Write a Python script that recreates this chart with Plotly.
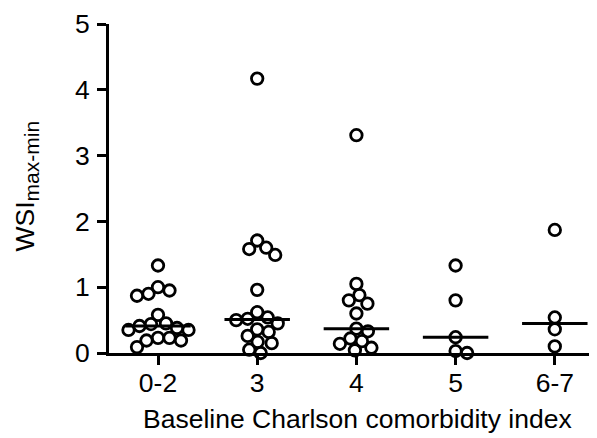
import plotly.graph_objects as go
import numpy as np

# ---- data ----
categories = ["0-2", "3", "4", "5", "6-7"]
values_0_2 = [1.33, 1.00, 0.95, 0.90, 0.87, 0.58, 0.45, 0.44, 0.41, 0.38, 0.35, 0.35, 0.23, 0.23, 0.19, 0.19, 0.09]
values_3 = [4.17, 1.71, 1.60, 1.58, 1.49, 0.96, 0.62, 0.54, 0.52, 0.50, 0.45, 0.36, 0.32, 0.26, 0.17, 0.15, 0.05, 0.00]
values_4 = [3.31, 1.05, 0.88, 0.80, 0.75, 0.60, 0.37, 0.33, 0.22, 0.18, 0.14, 0.08, 0.04]
values_5 = [1.33, 0.80, 0.24, 0.03, 0.00]
values_6_7 = [1.87, 0.54, 0.36, 0.10]
groups = [values_0_2, values_3, values_4, values_5, values_6_7]
y_ticks = [0, 1, 2, 3, 4, 5]
x_title = "Baseline Charlson comorbidity index"
y_title = "WSI<sub><span style='font-size:21px'>max-min</span></sub>"

# ---- layout geometry (page body has an 8px default margin) ----
OFF = 8
W, H = 597 - OFF, 438 - OFF
ML, MR, MT, MB = 109 - OFF, 0, 24 - OFF, 85
plot_w = W - ML - MR
plot_h = H - MT - MB
y_range = [0, 5]
x_lo = -0.494
px_per_x = 99.2
x_range = [x_lo, x_lo + plot_w / px_per_x]
px_per_y = plot_h / (y_range[1] - y_range[0])

MARKER = 11.5
MIN_D = 11.5  # allowed centre distance in px (Prism-style slight overlap)


def swarm(vals):
    """Deterministic beeswarm offsets (in x-axis units) computed from values."""
    order = sorted(range(len(vals)), key=lambda i: -vals[i])
    placed = []
    offs = [0.0] * len(vals)
    for i in order:
        ypx = vals[i] * px_per_y
        k = 0
        while True:
            cand = 0.0 if k == 0 else (k + 1) // 2 * (1 if k % 2 else -1) * 0.5
            ok = all((cand - px) ** 2 + (ypx - py) ** 2 >= MIN_D ** 2 for px, py in placed)
            if ok:
                break
            k += 1
        placed.append((cand, ypx))
        offs[i] = cand / px_per_x
    return offs


fig = go.Figure()
for gi, vals in enumerate(groups):
    offs = swarm(vals)
    fig.add_trace(go.Scatter(
        x=[gi + o for o in offs], y=vals, mode="markers",
        marker=dict(symbol="circle-open", size=MARKER, color="black",
                    line=dict(width=2.8, color="black")),
        showlegend=False, hoverinfo="y", cliponaxis=False,
    ))
    med = float(np.median(vals))
    fig.add_trace(go.Scatter(
        x=[gi - 0.33, gi + 0.33], y=[med, med], mode="lines",
        line=dict(color="black", width=3), showlegend=False,
        hoverinfo="skip", cliponaxis=False,
    ))

FONT = "Arial, Liberation Sans, sans-serif"
FS = 26.5
fig.update_layout(
    width=W, height=H,
    margin=dict(l=ML, r=MR, t=MT, b=MB, pad=0, autoexpand=False),
    paper_bgcolor="white", plot_bgcolor="white",
    font=dict(family=FONT, color="black", size=FS),
    xaxis=dict(
        range=x_range, tickmode="array", tickvals=list(range(len(categories))),
        ticktext=categories, showgrid=False, zeroline=False, automargin=False,
        showline=True, linecolor="black", linewidth=2.7,
        ticks="outside", ticklen=9, tickwidth=2.7, tickcolor="black",
        tickfont=dict(size=FS, family=FONT), ticklabelstandoff=-5,
    ),
    yaxis=dict(
        range=y_range, tickvals=y_ticks, showgrid=False, zeroline=False, automargin=False,
        showline=True, linecolor="black", linewidth=2.7,
        ticks="outside", ticklen=9, tickwidth=2.7, tickcolor="black",
        tickfont=dict(size=FS, family=FONT), ticklabelstandoff=2,
    ),
    annotations=[
        dict(text=x_title, xref="paper", yref="paper", x=(357.5 - 109) / plot_w, y=0,
             xanchor="center", yanchor="middle", yshift=-66, showarrow=False,
             font=dict(size=FS, family=FONT, color="black")),
        dict(text=y_title, xref="paper", yref="paper", x=0, y=(H - MB - (186.5 - OFF)) / plot_h,
             xanchor="center", yanchor="middle", xshift=-(109 - 26), textangle=-90,
             showarrow=False, font=dict(size=FS, family=FONT, color="black")),
    ],
)

fig.write_html("out.html")
